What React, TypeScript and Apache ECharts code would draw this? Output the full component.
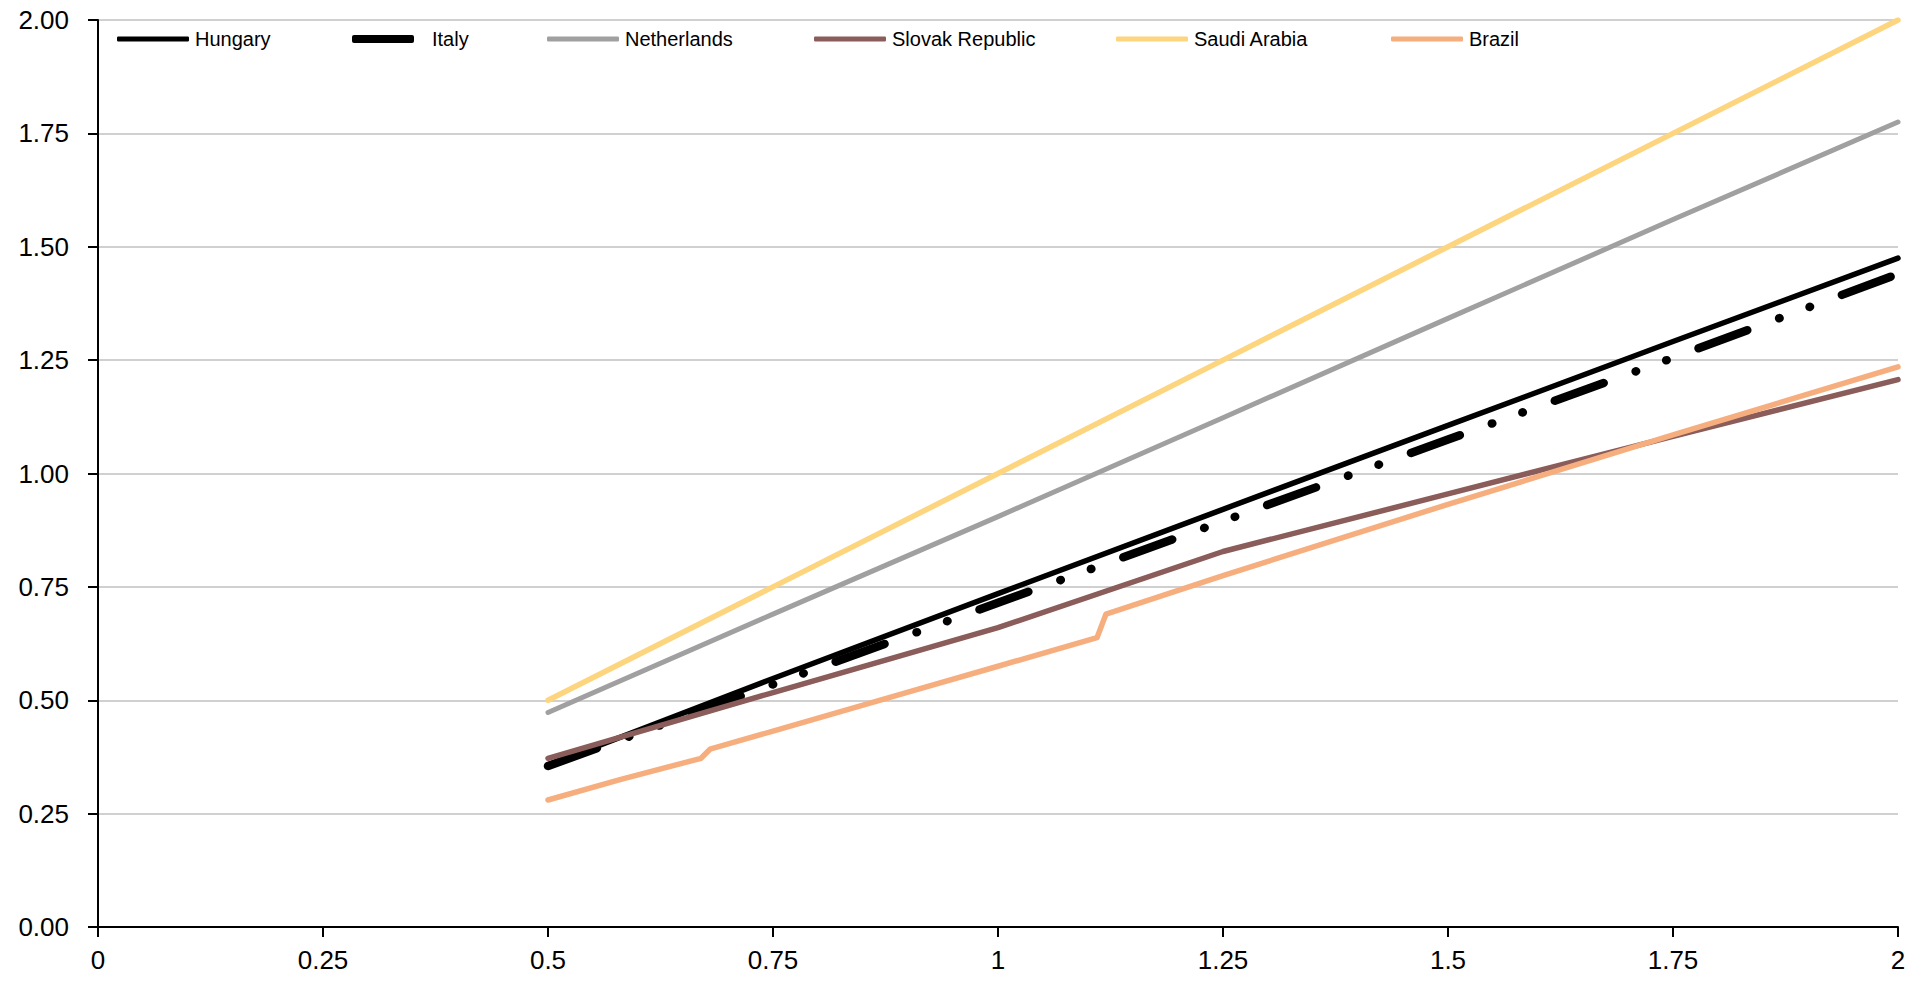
import React, { useEffect, useRef } from "react";
import * as echarts from "echarts";

const FONT = '"Liberation Sans Narrow", "Arial Narrow", "Liberation Sans", Arial, sans-serif';

const seriesNames = ["Hungary", "Italy", "Netherlands", "Slovak Republic", "Saudi Arabia", "Brazil"];
const seriesColors = ["#000000", "#000000", "#A0A0A0", "#8A5C5A", "#FDD57E", "#F7AE7E"];

const hungaryX = [0.5, 0.75, 1, 1.25, 1.5, 1.75, 2];
const hungaryY = [0.357, 0.548, 0.735, 0.921, 1.106, 1.291, 1.475];

const italyX = [0.5, 0.75, 1, 1.25, 1.5, 1.75, 2];
const italyY = [0.355, 0.535, 0.715, 0.895, 1.075, 1.255, 1.44];

const netherlandsX = [0.5, 0.75, 1, 1.25, 1.5, 1.75, 2];
const netherlandsY = [0.473, 0.69, 0.905, 1.123, 1.342, 1.56, 1.775];

const slovakX = [0.5, 0.75, 1, 1.25, 1.5, 1.75, 2];
const slovakY = [0.372, 0.517, 0.66, 0.828, 0.955, 1.082, 1.207];

const saudiX = [0.5, 0.75, 1, 1.25, 1.5, 1.75, 2];
const saudiY = [0.5, 0.75, 1, 1.25, 1.5, 1.75, 2];

const brazilX = [0.5, 0.58, 0.67, 0.68, 0.75, 0.9, 1.0, 1.11, 1.12, 1.25, 1.5, 1.75, 2];
const brazilY = [0.28, 0.325, 0.372, 0.392, 0.432, 0.518, 0.575, 0.638, 0.69, 0.775, 0.932, 1.085, 1.235];

const yTicks = [0, 0.25, 0.5, 0.75, 1, 1.25, 1.5, 1.75, 2];

const zip = (xs: number[], ys: number[]) => xs.map((x, i) => [x, ys[i]]);

export default function App() {
  const ref = useRef<HTMLDivElement>(null);

  useEffect(() => {
    if (!ref.current) return;
    const chart = echarts.init(ref.current, null, { renderer: "svg" });

    const seriesData = [
      zip(hungaryX, hungaryY),
      zip(italyX, italyY),
      zip(netherlandsX, netherlandsY),
      zip(slovakX, slovakY),
      zip(saudiX, saudiY),
      zip(brazilX, brazilY),
    ];
    const widths = [5.5, 8.5, 5, 5.5, 5.5, 5.5];
    const legendLeft = [117, 352, 547, 814, 1116, 1391];

    const legends = seriesNames.map((name, i) => ({
      show: true,
      data: [name],
      left: legendLeft[i],
      top: 29,
      padding: 0,
      icon: "roundRect",
      itemWidth: i === 1 ? 62 : 72,
      itemHeight: i === 1 ? 8 : 5,
      itemGap: 0,
      textStyle: { fontFamily: FONT, fontSize: 20, color: "#000", padding: i === 1 ? [0, 0, 0, 13] : [0, 0, 0, 1] },
      selectedMode: false,
    }));

    chart.setOption({
      animation: false,
      color: seriesColors,
      textStyle: { fontFamily: FONT },
      legend: legends,
      grid: { left: 98, right: 17, top: 20, bottom: 55, containLabel: false },
      xAxis: {
        type: "value",
        min: 0,
        max: 2,
        interval: 0.25,
        axisLine: { show: true, onZero: false, lineStyle: { color: "#000", width: 2 } },
        axisTick: { show: true, length: 10, lineStyle: { color: "#000", width: 2 } },
        axisLabel: { fontFamily: FONT, fontSize: 26, color: "#000", margin: 20 },
        splitLine: { show: false },
      },
      yAxis: {
        type: "value",
        min: yTicks[0],
        max: yTicks[yTicks.length - 1],
        interval: 0.25,
        axisLine: { show: true, lineStyle: { color: "#000", width: 2 } },
        axisTick: { show: true, length: 10, lineStyle: { color: "#000", width: 2 } },
        axisLabel: {
          fontFamily: FONT,
          fontSize: 26,
          color: "#000",
          margin: 29,
          formatter: (v: number) => v.toFixed(2),
        },
        splitLine: { show: true, lineStyle: { color: "#C0C0C0", width: 1.5 } },
      },
      series: seriesNames.map((name, i) => ({
        name,
        type: "line",
        data: seriesData[i],
        showSymbol: false,
        symbol: "none",
        z: 10 - (i === 4 ? 6 : i === 2 ? 5 : 0),
        lineStyle: {
          color: seriesColors[i],
          width: widths[i],
          cap: "round",
          join: "round",
          type: i === 1 ? [52, 34, 0.5, 32, 0.5, 34] : "solid",
        },
        emphasis: { disabled: true },
      })),
    });

    return () => chart.dispose();
  }, []);

  return (
    <div
      ref={ref}
      style={{ position: "fixed", left: 0, top: 0, width: 1915, height: 982, background: "#fff" }}
    />
  );
}
